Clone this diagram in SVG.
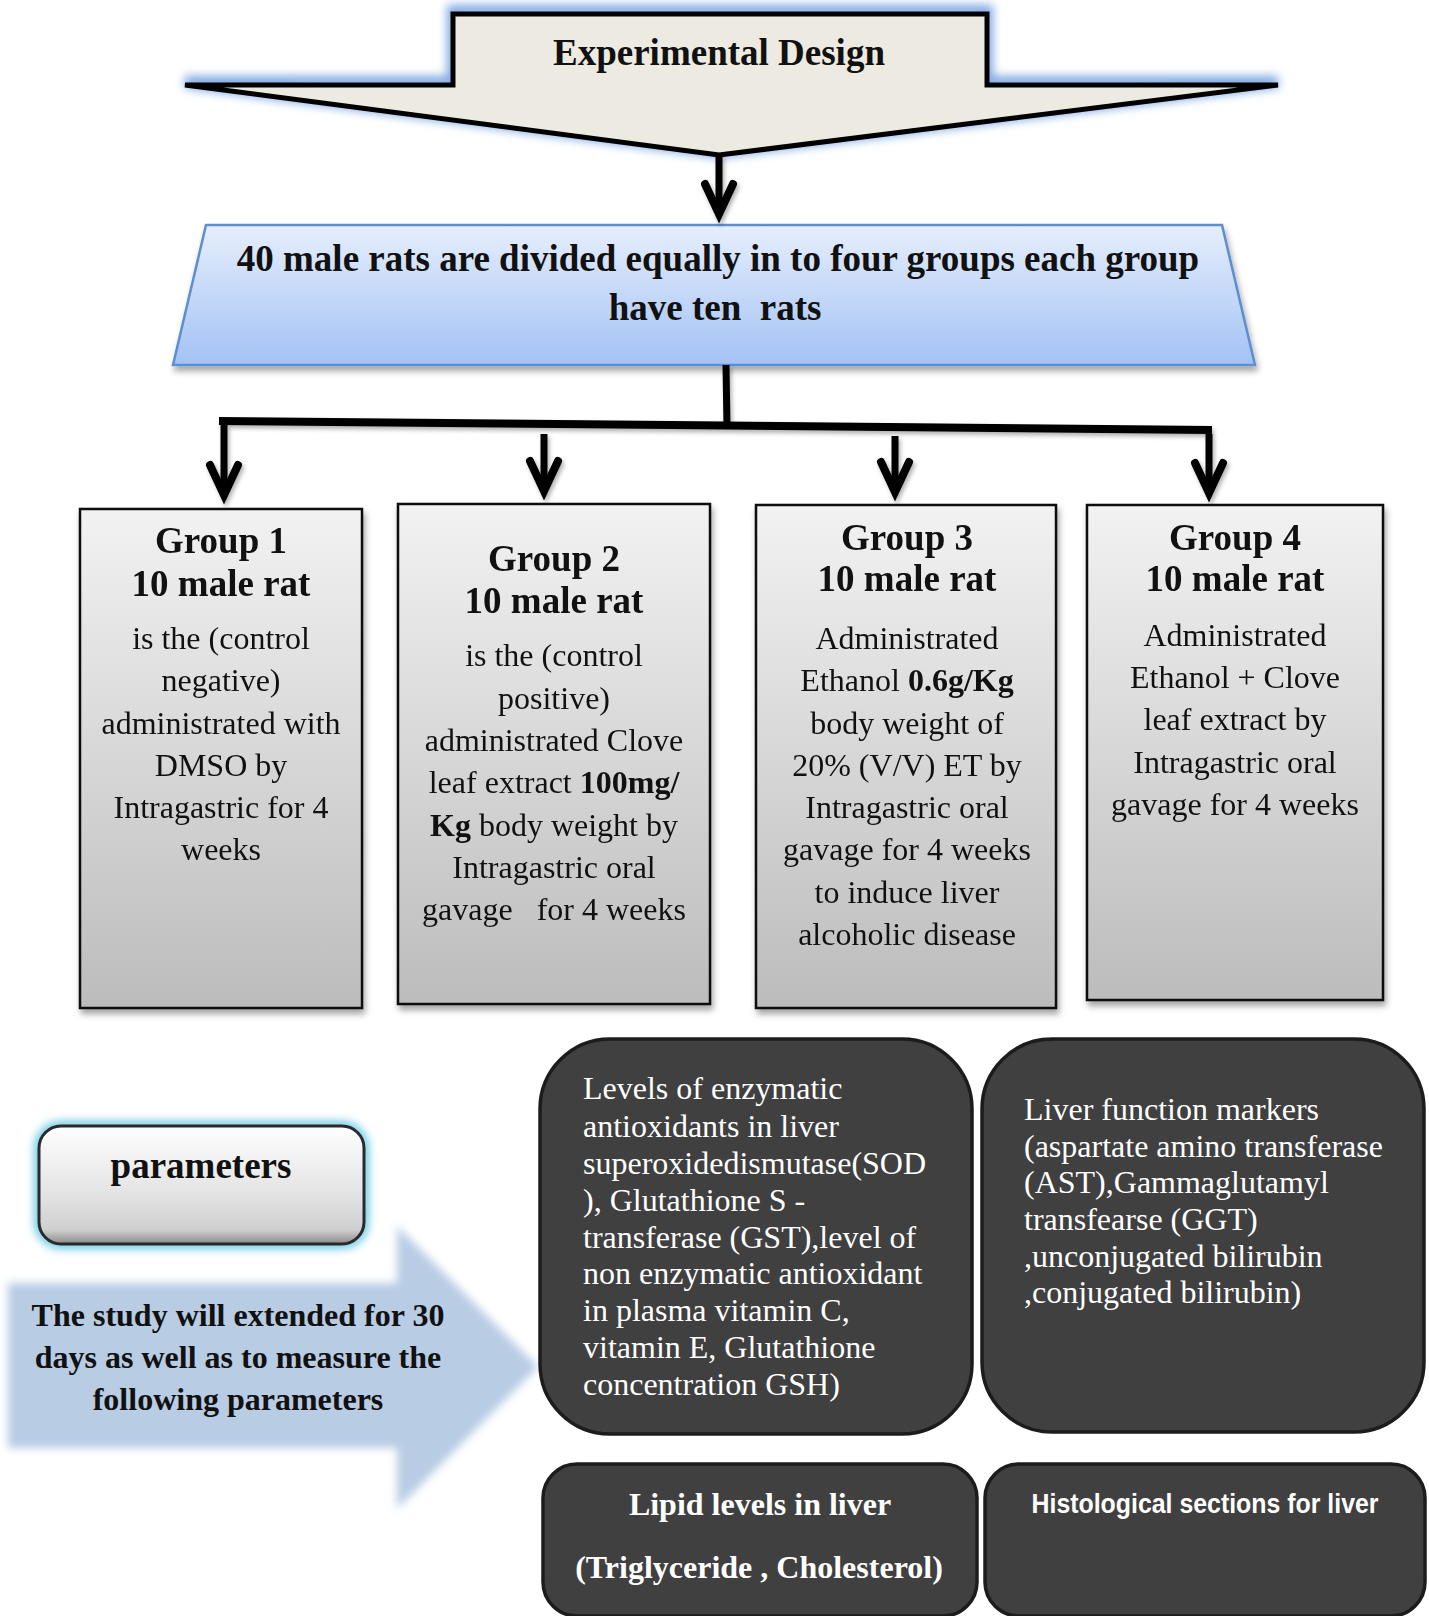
<svg xmlns="http://www.w3.org/2000/svg" xmlns:xlink="http://www.w3.org/1999/xlink" width="1429" height="1616" viewBox="0 0 1429 1616">
<style>
.serif{font-family:"Liberation Serif","Times New Roman",serif;}
.hd{font-family:"Liberation Serif","Times New Roman",serif;font-weight:bold;font-size:37px;fill:#111;text-anchor:middle;}
.gt{font-family:"Liberation Serif","Times New Roman",serif;font-size:32px;fill:#111;text-anchor:middle;}
.wt{font-family:"Liberation Serif","Times New Roman",serif;font-size:32px;fill:#fff;}
.b{font-weight:bold;}
.grp{fill:url(#gGray);stroke:#111;stroke-width:2.5;filter:url(#shadow);}
.dark{fill:#404040;stroke:#1c1c1c;stroke-width:3.5;}
.conn{stroke:#000;stroke-width:7;fill:none;}
.ah{stroke:#000;stroke-width:8;fill:none;stroke-linejoin:miter;stroke-miterlimit:10;stroke-linecap:round;}
</style>
<defs>
<linearGradient id="gGray" x1="0" y1="0" x2="0" y2="1">
<stop offset="0" stop-color="#F2F2F2"/>
<stop offset="1" stop-color="#BCBCBC"/>
</linearGradient>
<linearGradient id="gBlue" x1="0" y1="0" x2="0" y2="1">
<stop offset="0" stop-color="#E6EEFC"/>
<stop offset="1" stop-color="#A3C2F4"/>
</linearGradient>
<linearGradient id="gParam" x1="0" y1="0" x2="0" y2="1">
<stop offset="0" stop-color="#FFFFFF"/>
<stop offset="0.6" stop-color="#E2E2E2"/>
<stop offset="0.88" stop-color="#CFCFCF"/>
<stop offset="1" stop-color="#8A8A8A"/>
</linearGradient>
<filter id="shadow" x="-10%" y="-10%" width="130%" height="130%">
<feDropShadow dx="2" dy="5" stdDeviation="3" flood-color="#000" flood-opacity="0.35"/>
</filter>
<filter id="ahShadow" x="-50%" y="-50%" width="200%" height="200%">
<feDropShadow dx="2" dy="3" stdDeviation="2" flood-color="#000" flood-opacity="0.3"/>
</filter>
<filter id="blur4" x="-10%" y="-20%" width="120%" height="140%">
<feGaussianBlur stdDeviation="4"/>
</filter>
<filter id="blur6" x="-10%" y="-20%" width="120%" height="140%">
<feGaussianBlur stdDeviation="5"/>
</filter>
<path id="ah" d="M-14,-40 L0,-10 L14,-40"/>
</defs>

<g id="experimental-design">
<path d="M453,14 L987,14 L987,85 L1278,85 L719,155 L185,85 L453,85 Z" fill="none" stroke="#7FA9E3" stroke-width="12" filter="url(#blur6)" transform="translate(0,-3)"/>
<path d="M453,14 L987,14 L987,85 L1278,85 L719,155 L185,85 L453,85 Z" fill="#EDEBE1" stroke="#000" stroke-width="5" stroke-linejoin="miter"/>
<text class="hd" x="719" y="65">Experimental Design</text>
</g>

<g id="rats-division">
<path d="M206,225 L1222,225 L1255,365 L173,365 Z" fill="url(#gBlue)" stroke="#5B8ED2" stroke-width="2.5" filter="url(#shadow)"/>
<text class="hd" x="718" y="271">40 male rats are divided equally in to four groups each group</text>
<text class="hd" x="715" y="320" xml:space="preserve">have ten  rats</text>
</g>

<g id="connectors" filter="url(#ahShadow)">
<line class="conn" x1="719" y1="155" x2="719" y2="215"/>
<use href="#ah" class="ah" x="719" y="224"/>
<line class="conn" x1="726" y1="365" x2="727" y2="427"/>
<path d="M219,421 L1212,430" stroke="#000" stroke-width="8" fill="none"/>
<line class="conn" x1="224" y1="419" x2="224" y2="496"/>
<use href="#ah" class="ah" x="224" y="505"/>
<line class="conn" x1="544" y1="434" x2="544" y2="492"/>
<use href="#ah" class="ah" x="544" y="501"/>
<line class="conn" x1="895" y1="436" x2="895" y2="493"/>
<use href="#ah" class="ah" x="895" y="502"/>
<line class="conn" x1="1209" y1="434" x2="1209" y2="494"/>
<use href="#ah" class="ah" x="1209" y="503"/>
</g>

<g id="group1">
<rect class="grp" x="80" y="509" width="282" height="499"/>
<text class="hd" x="221" y="553">Group 1</text>
<text class="hd" x="221" y="596">10 male rat</text>
<text class="gt" x="221" y="649">is the (control</text>
<text class="gt" x="221" y="691">negative)</text>
<text class="gt" x="221" y="734">administrated with</text>
<text class="gt" x="221" y="776">DMSO by</text>
<text class="gt" x="221" y="818">Intragastric for 4</text>
<text class="gt" x="221" y="860">weeks</text>
</g>

<g id="group2">
<rect class="grp" x="398" y="504" width="312" height="500"/>
<text class="hd" x="554" y="571">Group 2</text>
<text class="hd" x="554" y="613">10 male rat</text>
<text class="gt" x="554" y="666">is the (control</text>
<text class="gt" x="554" y="709">positive)</text>
<text class="gt" x="554" y="751">administrated Clove</text>
<text class="gt" x="554" y="793">leaf extract <tspan class="b">100mg/</tspan></text>
<text class="gt" x="554" y="836"><tspan class="b">Kg</tspan> body weight by</text>
<text class="gt" x="554" y="878">Intragastric oral</text>
<text class="gt" x="554" y="920" xml:space="preserve">gavage   for 4 weeks</text>
</g>

<g id="group3">
<rect class="grp" x="756" y="505" width="300" height="503"/>
<text class="hd" x="907" y="550">Group 3</text>
<text class="hd" x="907" y="591">10 male rat</text>
<text class="gt" x="907" y="649">Administrated</text>
<text class="gt" x="907" y="691">Ethanol <tspan class="b">0.6g/Kg</tspan></text>
<text class="gt" x="907" y="734">body weight of</text>
<text class="gt" x="907" y="776">20% (V/V) ET by</text>
<text class="gt" x="907" y="818">Intragastric oral</text>
<text class="gt" x="907" y="860">gavage for 4 weeks</text>
<text class="gt" x="907" y="903">to induce liver</text>
<text class="gt" x="907" y="945">alcoholic disease</text>
</g>

<g id="group4">
<rect class="grp" x="1087" y="505" width="296" height="495"/>
<text class="hd" x="1235" y="550">Group 4</text>
<text class="hd" x="1235" y="591">10 male rat</text>
<text class="gt" x="1235" y="646">Administrated</text>
<text class="gt" x="1235" y="688">Ethanol + Clove</text>
<text class="gt" x="1235" y="730">leaf extract by</text>
<text class="gt" x="1235" y="773">Intragastric oral</text>
<text class="gt" x="1235" y="815">gavage for 4 weeks</text>
</g>

<g id="parameters">
<rect x="39" y="1126" width="325" height="118" rx="22" fill="none" stroke="#6CCBE3" stroke-width="10" filter="url(#blur4)"/>
<rect x="39" y="1126" width="325" height="118" rx="22" fill="url(#gParam)" stroke="#2a2a2a" stroke-width="3"/>
<text class="hd" x="201" y="1178">parameters</text>
</g>

<g id="study-arrow">
<path d="M8,1283 L397,1283 L397,1226 L538,1367 L397,1509 L397,1448 L8,1448 Z" fill="#B8CCE4" filter="url(#blur4)"/>
<text class="serif b" x="238" y="1326" font-size="32" text-anchor="middle" fill="#111">The study will extended for 30</text>
<text class="serif b" x="238" y="1368" font-size="32" text-anchor="middle" fill="#111">days as well as to measure the</text>
<text class="serif b" x="238" y="1410" font-size="32" text-anchor="middle" fill="#111">following parameters</text>
</g>

<g id="antioxidants">
<rect class="dark" x="540" y="1039" width="432" height="395" rx="70"/>
<text class="wt" x="583" y="1099">Levels of enzymatic</text>
<text class="wt" x="583" y="1137">antioxidants in liver</text>
<text class="wt" x="583" y="1174">superoxidedismutase(SOD</text>
<text class="wt" x="583" y="1211">), Glutathione S -</text>
<text class="wt" x="583" y="1248">transferase (GST),level of</text>
<text class="wt" x="583" y="1284">non enzymatic antioxidant</text>
<text class="wt" x="583" y="1321">in plasma vitamin C,</text>
<text class="wt" x="583" y="1358">vitamin E, Glutathione</text>
<text class="wt" x="583" y="1395">concentration GSH)</text>
</g>

<g id="liver-function">
<rect class="dark" x="982" y="1039" width="442" height="393" rx="70"/>
<text class="wt" x="1024" y="1120">Liver function markers</text>
<text class="wt" x="1024" y="1157">(aspartate amino transferase</text>
<text class="wt" x="1024" y="1193">(AST),Gammaglutamyl</text>
<text class="wt" x="1024" y="1230">transfearse (GGT)</text>
<text class="wt" x="1024" y="1267">,unconjugated bilirubin</text>
<text class="wt" x="1024" y="1303">,conjugated bilirubin)</text>
</g>

<g id="lipid">
<rect class="dark" x="543" y="1464" width="434" height="152" rx="34"/>
<text class="wt b" x="760" y="1515" text-anchor="middle">Lipid levels in liver</text>
<text class="wt b" x="759" y="1578" text-anchor="middle">(Triglyceride , Cholesterol)</text>
</g>

<g id="histological">
<rect class="dark" x="985" y="1464" width="440" height="152" rx="34"/>
<text x="1205" y="1513" text-anchor="middle" font-family="'Liberation Sans',Arial,sans-serif" font-weight="bold" font-size="27" fill="#fff" textLength="347" lengthAdjust="spacingAndGlyphs">Histological sections for liver</text>
</g>
</svg>
